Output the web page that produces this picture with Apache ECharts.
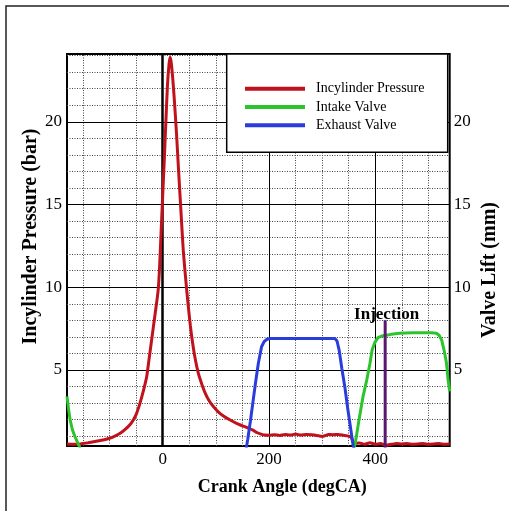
<!DOCTYPE html>
<html>
<head>
<meta charset="utf-8">
<script src="https://cdn.jsdelivr.net/npm/echarts@6/dist/echarts.min.js"></script>
<style>html,body{margin:0;padding:0;background:#fff}#c{width:509px;height:511px}</style>
</head>
<body>
<div id="c"></div>
<script>
// ---- data ----
const seriesNames = ['Incylinder Pressure', 'Intake Valve', 'Exhaust Valve'];
const xRange = [-180, 540];
const yRange = [0.4, 24.1];
const xLabelValues = [0, 200, 400];
const yLabelValues = [5, 10, 15, 20];
const xMinorGrid = [-150, -100, -50, 50, 100, 150, 250, 300, 350, 450, 500];
const xMajorGrid = [200, 400];
const xZeroLine = [0];
const yMinorGrid = [1, 2, 3, 4, 6, 7, 8, 9, 11, 12, 13, 14, 16, 17, 18, 19, 21, 22, 23, 24];
const yMajorGrid = [5, 10, 15, 20];

const pressure = [
  [-180,0.52],[-170,0.5],[-160,0.5],[-150,0.55],[-140,0.6],[-130,0.66],[-120,0.72],[-110,0.78],
  [-100,0.87],[-90,1.0],[-80,1.17],[-70,1.42],[-60,1.75],[-55,1.99],[-50,2.3],[-45,2.75],
  [-40,3.3],[-35,3.9],[-30,4.6],[-25,5.8],[-20,7.0],[-15,8.2],[-10,9.4],[-8,10.0],[-6,11.1],
  [-3,13.3],[0,15.5],[3,17.7],[6,20.0],[9,22.2],[12,23.5],[14,23.9],[16,23.6],[19,22.6],
  [22,21.3],[26,19.3],[30,17.0],[34,14.8],[39,12.1],[45,9.9],[48,8.9],[52,7.7],[56,6.7],
  [61,5.7],[67,4.8],[73,4.2],[80,3.6],[88,3.1],[95,2.8],[105,2.45],[115,2.2],[127,1.97],
  [140,1.75],[150,1.62],[160,1.5],[170,1.36],[178,1.2],[185,1.12],[192,1.06],[200,1.05],
  [210,1.08],[220,1.04],[230,1.1],[240,1.06],[250,1.12],[260,1.06],[270,1.1],[280,1.08],
  [290,1.04],[300,0.98],[305,1.02],[312,1.1],[320,1.08],[330,1.1],[340,1.05],[350,1.0],
  [355,0.9],[360,0.56],[370,0.58],[380,0.5],[390,0.6],[400,0.5],[410,0.55],[420,0.45],
  [430,0.5],[440,0.55],[450,0.52],[460,0.55],[470,0.5],[480,0.52],[490,0.55],[500,0.5],
  [510,0.52],[520,0.55],[530,0.5],[540,0.52]
];
const intakeA = [[-180,3.4],[-177,2.6],[-174,1.97],[-170,1.4],[-165,0.96],[-160,0.6],[-157,0.4],[-155,0.2]];
const intakeB = [
  [359,0.2],[362,0.5],[370,2.1],[377,3.4],[384,4.4],[390,5.4],[394,6.2],[399,6.65],[405,6.95],
  [412,7.05],[421,7.1],[430,7.15],[446,7.22],[470,7.24],[490,7.25],[505,7.25],[515,7.22],
  [520,7.1],[525,6.8],[530,6.1],[534,5.4],[537,4.4],[540,3.7]
];
const exhaust = [
  [157,0.2],[160,0.8],[165,1.9],[170,3.1],[175,4.3],[180,5.4],[186,6.4],[191,6.72],[196,6.85],
  [202,6.9],[260,6.9],[324,6.9],[328,6.75],[332,6.2],[337,5.1],[343,3.9],[348,2.7],[353,1.6],
  [358.5,0.4],[360,0.2]
];
const injection = [[418.6,0.2],[418.6,8.0]];
const injectionLabel = 'Injection';
const xTitle = 'Crank Angle (degCA)';
const yTitleLeft = 'Incylinder Pressure (bar)';
const yTitleRight = 'Valve Lift (mm)';

// ---- styles ----
const RED = '#c0121c', GREEN = '#2cc42c', BLUE = '#2a3cdc', PURPLE = '#5a176e';
const SERIF = '"Liberation Serif", "Times New Roman", serif';

const minorStyle = { color: '#444', width: 1, type: [1, 1.5] };
const majorStyle = { color: '#000', width: 1, type: 'solid' };
const gridLines = []
  .concat(xMinorGrid.map(v => ({ xAxis: v, lineStyle: minorStyle })))
  .concat(yMinorGrid.map(v => ({ yAxis: v, lineStyle: minorStyle })))
  .concat(xMajorGrid.map(v => ({ xAxis: v, lineStyle: majorStyle })))
  .concat(yMajorGrid.map(v => ({ yAxis: v, lineStyle: majorStyle })))
  .concat(xZeroLine.map(v => ({ xAxis: v, lineStyle: { color: '#000', width: 2.5, type: 'solid' } })));

const yFmt = v => { const r = Math.round(v); return (Math.abs(v - r) < 1e-6 && yLabelValues.indexOf(r) >= 0) ? String(r) : ''; };

const chart = echarts.init(document.getElementById('c'), null, { renderer: 'canvas' });
chart.setOption({
  animation: false,
  backgroundColor: '#fff',
  grid: { left: 67, right: 59.3, top: 54, bottom: 65, show: true, borderColor: '#000', borderWidth: 2, backgroundColor: 'transparent' },
  xAxis: {
    type: 'value', min: xRange[0], max: xRange[1], interval: 20,
    axisLine: { show: false }, axisTick: { show: false }, splitLine: { show: false },
    axisLabel: { margin: 5, fontFamily: SERIF, fontSize: 17, color: '#000',
      formatter: v => (xLabelValues.indexOf(v) >= 0 ? String(v) : '') }
  },
  yAxis: [
    { type: 'value', min: yRange[0], max: yRange[1], interval: 0.2, position: 'left',
      axisLine: { show: false }, axisTick: { show: false }, splitLine: { show: false },
      axisLabel: { margin: 5, fontFamily: SERIF, fontSize: 17, color: '#000', formatter: yFmt } },
    { type: 'value', min: yRange[0], max: yRange[1], interval: 0.2, position: 'right',
      axisLine: { show: false }, axisTick: { show: false }, splitLine: { show: false },
      axisLabel: { margin: 4, fontFamily: SERIF, fontSize: 17, color: '#000', formatter: yFmt } }
  ],
  legend: {
    data: seriesNames, orient: 'vertical', left: 245, top: 81.7, padding: 0,
    itemGap: 4.3, itemWidth: 60, itemHeight: 4, icon: 'rect', z: 4,
    textStyle: { fontFamily: SERIF, fontSize: 14, color: '#000', padding: [0, 0, 0, 6] },
    selectedMode: false
  },
  graphic: [
    { type: 'rect', z: 0, shape: { x: 6, y: 6, width: 520, height: 520 }, style: { fill: 'none', stroke: '#222', lineWidth: 1.5 } },
    { type: 'rect', z: 3, shape: { x: 226.7, y: 54, width: 221, height: 98.3 }, style: { fill: '#fff', stroke: '#000', lineWidth: 1.5 } },
    { type: 'text', z: 5, x: 282.3, y: 487.3, style: { text: xTitle, font: 'bold 18px ' + SERIF, fill: '#000', align: 'center', verticalAlign: 'middle' } },
    { type: 'text', z: 5, x: 31, y: 236.5, rotation: Math.PI / 2, style: { text: yTitleLeft, font: 'bold 20px ' + SERIF, fill: '#000', align: 'center', verticalAlign: 'middle' } },
    { type: 'text', z: 5, x: 490, y: 270, rotation: Math.PI / 2, style: { text: yTitleRight, font: 'bold 20px ' + SERIF, fill: '#000', align: 'center', verticalAlign: 'middle' } }
  ],
  series: [
    { name: 'gridlines', type: 'line', data: [], silent: true, z: 1,
      markLine: { silent: true, z: 1, symbol: ['none', 'none'], label: { show: false }, animation: false, data: gridLines } },
    { name: seriesNames[0], type: 'line', data: pressure, showSymbol: false, smooth: 0.2, z: 2, color: RED, lineStyle: { color: RED, width: 3 } },
    { name: seriesNames[1], type: 'line', data: intakeA, yAxisIndex: 1, showSymbol: false, z: 2, color: GREEN, lineStyle: { color: GREEN, width: 3 } },
    { name: seriesNames[1], type: 'line', data: intakeB, yAxisIndex: 1, showSymbol: false, z: 2, color: GREEN, lineStyle: { color: GREEN, width: 3 } },
    { name: seriesNames[2], type: 'line', data: exhaust, yAxisIndex: 1, showSymbol: false, z: 2, color: BLUE, lineStyle: { color: BLUE, width: 3 } },
    { name: 'injection', type: 'line', data: injection, showSymbol: false, z: 2, color: PURPLE, lineStyle: { color: PURPLE, width: 3 },
      markPoint: { symbol: 'circle', symbolSize: 0, z: 5, silent: true,
        data: [{ coord: injection[1], value: injectionLabel }],
        label: { show: true, position: 'inside', offset: [1.5, -6], formatter: injectionLabel,
          fontFamily: SERIF, fontSize: 17, fontWeight: 'bold', color: '#000' } } }
  ]
});
</script>
</body>
</html>
